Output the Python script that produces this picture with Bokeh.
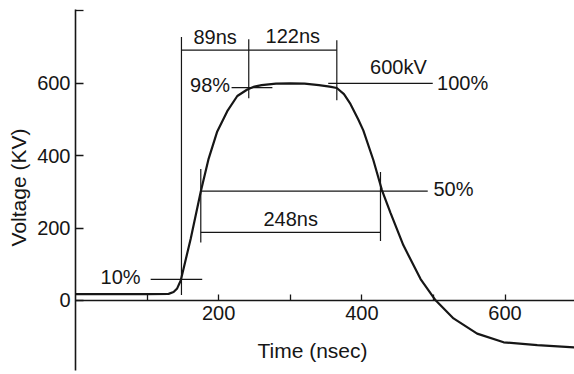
from bokeh.plotting import figure
from bokeh.models import Range1d, FixedTicker, LinearAxis
from bokeh.embed import file_html
from bokeh.resources import INLINE
from bokeh.core.properties import value

# Pulse waveform (time in ns, voltage in kV)
time_ns = [0, 100, 130, 137, 142, 147, 161, 175, 186, 198, 212, 226, 240, 250, 260,
           280, 300, 320, 340, 355, 365, 375, 384, 395, 402, 416, 428, 440, 458,
           482, 503, 528, 561, 598, 645, 697]
voltage_kv = [17, 17, 18, 23, 33, 55, 171, 301, 392, 467, 523, 565, 583, 591, 595,
              599, 600, 599, 595, 591, 587, 570, 543, 500, 470, 388, 305, 242, 152,
              59, 0, -50, -92, -116, -124, -130]

# Tick values
x_major_ticks = [200, 400, 600]
x_minor_ticks = [100, 300, 500]
y_major_ticks = [0, 200, 400, 600]
y_minor_ticks = [800]

# Characteristic times / levels marked on the waveform
T10, T98, T100 = 148, 242, 365          # 10 %, 98 %, end of flat top
T50R, T50F = 175, 426                   # 50 % on rise / fall
V10, V98, V100, V50 = 58, 588, 600, 302
DIM_TOP, DIM_50 = 692, 188              # dimension line levels
labels_center = ["89ns", "122ns", "248ns", "600kV"]
labels_right = ["98%", "10%"]
labels_left = ["100%", "50%"]

FONT = "Liberation Sans"
INK = "#161616"

p = figure(width=574, height=374,
           x_range=Range1d(0, 697), y_range=Range1d(-205, 829),
           output_backend="svg", toolbar_location=None,
           min_border_left=75, min_border_right=0,
           min_border_top=0, min_border_bottom=0)
p.grid.visible = False
p.outline_line_color = None
p.background_fill_color = "white"

# x axis crosses at V = 0, y axis sits on the frame's left edge (t = 0)
p.xaxis.fixed_location = 0
p.xaxis.bounds = (0, 697)
p.yaxis.bounds = (-193, 805)
p.xaxis.ticker = FixedTicker(ticks=x_major_ticks, minor_ticks=x_minor_ticks)
p.yaxis.ticker = FixedTicker(ticks=y_major_ticks, minor_ticks=y_minor_ticks)
for ax, tl in ((p.xaxis, 6), (p.yaxis, 8)):
    ax.major_tick_in = tl
    ax.major_tick_out = 0
    ax.minor_tick_in = tl
    ax.minor_tick_out = 0
    ax.axis_line_color = INK
    ax.axis_line_width = 1.6
    ax.major_tick_line_color = INK
    ax.minor_tick_line_color = INK
    ax.major_tick_line_width = 1.3
    ax.minor_tick_line_width = 1.3
    ax.major_label_text_font = FONT
    ax.major_label_text_font_size = "20px"
    ax.major_label_text_color = INK
    ax.axis_label_text_font = FONT
    ax.axis_label_text_font_size = "21px"
    ax.axis_label_text_font_style = "normal"
    ax.axis_label_text_color = INK
p.yaxis.axis_label = "Voltage (KV)"
p.xaxis.major_label_standoff = 6
p.yaxis.major_label_standoff = 5
p.yaxis.axis_label_standoff = 4

# Axis title for time, centred a little left of the frame's middle as in the original
title_axis = LinearAxis(fixed_location=0, bounds=(0, 662),
                        ticker=FixedTicker(ticks=[], minor_ticks=[]),
                        axis_line_color=None, major_tick_line_color=None,
                        minor_tick_line_color=None,
                        axis_label="Time (nsec)", axis_label_standoff=38,
                        axis_label_text_font=FONT, axis_label_text_font_size="21px",
                        axis_label_text_font_style="normal",
                        axis_label_text_color=INK)
p.add_layout(title_axis, "below")

# Annotation lines
x0 = [T10, T98, T100, T10, 218, 353, T50R, T50R, T50F, T50R, 105]
y0 = [15, 559, 553, DIM_TOP, V98, V100, V50, 160, 164, DIM_50, V10]
x1 = [T10, T98, T100, T100, 275, 499, 492, T50R, T50F, T50F, 177]
y1 = [728, 722, 719, DIM_TOP, V98, V100, V50, 363, 355, DIM_50, V10]
p.segment(x0=x0, y0=y0, x1=x1, y1=y1, line_color=INK, line_width=1.2)

# Waveform
p.line(time_ns, voltage_kv, line_color=INK, line_width=2.2)

# Annotation texts
p.text(x=[(T10 + T98) / 2, (T98 + T100) / 2, (T50R + T50F) / 2, 451],
       y=[DIM_TOP + 36, DIM_TOP + 38, DIM_50 + 38, V100 + 44],
       text=labels_center, text_font=value(FONT), text_font_size="20px",
       text_color=INK, text_align="center", text_baseline="middle")
p.text(x=[216, 91], y=[V98 + 7, V10 + 6], text=labels_right,
       text_font=value(FONT), text_font_size="20px", text_color=INK,
       text_align="right", text_baseline="middle")
p.text(x=[505, 500], y=[V100 + 1, V50 + 5], text=labels_left,
       text_font=value(FONT), text_font_size="20px", text_color=INK,
       text_align="left", text_baseline="middle")

open("out.html", "w").write(file_html(p, INLINE))
